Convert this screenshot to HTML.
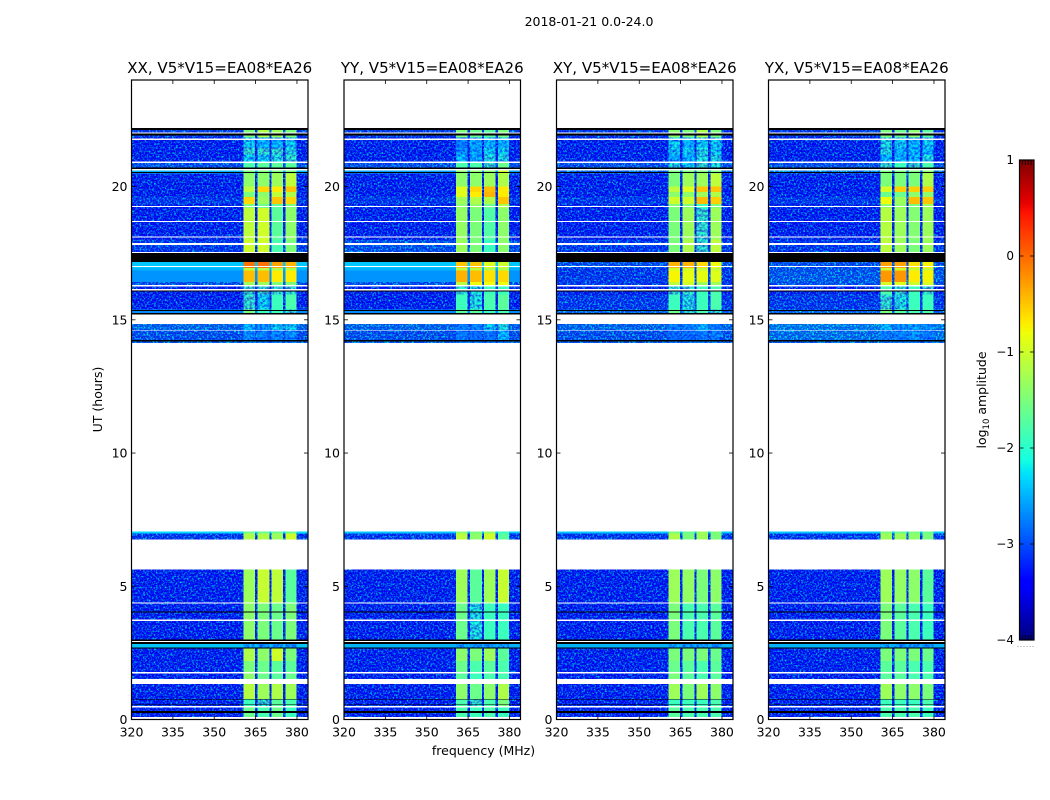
<!DOCTYPE html>
<html lang="en">
<head>
<meta charset="utf-8">
<title>2018-01-21 0.0-24.0</title>
<style>
html,body{margin:0;padding:0;background:#fff;width:1050px;height:800px;overflow:hidden}
svg{display:block}
text{font-family:"DejaVu Sans","Liberation Sans",sans-serif;fill:#000}
</style>
</head>
<body>
<svg id="chart" xmlns="http://www.w3.org/2000/svg" width="1050" height="800" viewBox="0 0 1050 800">
  <defs>
    <filter id="speckle" filterUnits="userSpaceOnUse" x="0" y="0" width="1050" height="800" color-interpolation-filters="sRGB">
      <feTurbulence type="fractalNoise" baseFrequency="0.55" numOctaves="2" seed="7" result="n"/>
      <feColorMatrix in="n" type="matrix" values="0 0 0 0 0  2.2 0 0 0 -1.0  0 2.0 0 0 -1.0  0 0 0 0 1" result="m"/>
      <feComposite in="m" in2="SourceAlpha" operator="in" result="clipped"/>
      <feComposite in="SourceGraphic" in2="clipped" operator="arithmetic" k1="0" k2="1" k3="1" k4="-0.12"/>
    </filter>
    <filter id="mottle" filterUnits="userSpaceOnUse" x="0" y="0" width="1050" height="800" color-interpolation-filters="sRGB">
      <feTurbulence type="fractalNoise" baseFrequency="0.4" numOctaves="2" seed="11" result="n"/>
      <feColorMatrix in="n" type="matrix" values="0 0 0 0 1  1.6 0 0 0 -0.05  0 0 0 0 1  0 0 0 0 1" result="m"/>
      <feComposite in="m" in2="SourceAlpha" operator="in" result="clipped"/>
      <feBlend in="SourceGraphic" in2="clipped" mode="multiply"/>
    </filter>
  </defs>
  <rect x="0" y="0" width="1050" height="800" fill="#fff"/>
  <text x="589" y="26" font-size="12.5" text-anchor="middle">2018-01-21 0.0-24.0</text>
  <text x="483.5" y="755" font-size="12.5" text-anchor="middle">frequency (MHz)</text>
  <text transform="translate(102,399.5) rotate(-90)" font-size="12.5" text-anchor="middle">UT (hours)</text>
  <text transform="translate(986,400) rotate(-90)" font-size="12.5" text-anchor="middle">log<tspan font-size="8.5" dy="3">10</tspan><tspan dy="-3"> amplitude</tspan></text>
</svg>
<script>
// ---- axis data ----
const panelTitles = ["XX, V5*V15=EA08*EA26", "YY, V5*V15=EA08*EA26", "XY, V5*V15=EA08*EA26", "YX, V5*V15=EA08*EA26"];
const freqTicks = [320, 335, 350, 365, 380];
const hourTicks = [0, 5, 10, 15, 20];
const colorTicks = [1, 0, -1, -2, -3, -4];
const freqRange = [320, 384];
const hourRange = [0, 24];
const colorRange = [-4, 1];

// frequency columns (MHz): background, then four spectral windows separated by gaps
const channelEdges = [[360.6, 364.8], [365.6, 370.0], [370.7, 375.0], [375.8, 379.9]];

// time intervals (UT hours), top to bottom
const timeRows = [
  [22.2, 21.85], [21.85, 21.45], [21.45, 21.2], [21.2, 20.95], [20.95, 20.6], [20.6, 20.5],
  [20.5, 20.0], [20.0, 19.8], [19.8, 19.6], [19.6, 19.35], [19.35, 19.2], [19.2, 18.0],
  [18.0, 17.5], [17.5, 17.175], [17.175, 16.95], [16.95, 16.85], [16.85, 16.42], [16.42, 16.25],
  [16.25, 15.95], [15.95, 15.38], [15.38, 15.2], [15.2, 14.6], [14.6, 14.25], [14.25, 14.1],
  [7.05, 6.98], [6.98, 6.75], [5.625, 4.4], [4.4, 3.0], [3.0, 2.66], [2.66, 2.2],
  [2.2, 1.75], [1.75, 1.5], [1.5, 0.77], [0.77, 0.5], [0.5, 0.0]
];

// log10 amplitude per time row: [background, window1, window2, window3, window4]
const levelsXX = [
  [-3.1,-1.5,-1.2,-1.3,-1.5],[-3.2,-2.2,-2.3,-2.3,-2.2],[-3.2,-2.0,-2.0,-2.0,-2.1],[-3.2,-2.2,-2.2,-2.1,-2.0],
  [-3.0,-1.8,-1.7,-1.7,-1.7],[-2.5,-1.5,-1.5,-1.5,-1.5],[-3.2,-1.4,-1.4,-1.3,-1.1],[-3.2,-1.1,-0.6,-0.7,-0.5],
  [-3.2,-1.5,-1.4,-1.1,-1.2],[-3.1,-0.6,-1.3,-0.5,-0.6],[-3.2,-1.5,-1.6,-1.7,-1.5],[-3.2,-1.1,-1.0,-1.7,-1.4],
  [-3.1,-1.0,-1.0,-1.8,-1.5],[-3.0,-1.0,-1.0,-1.0,-1.0],[-2.4,-0.05,-0.05,-0.3,-0.4],[-2.5,-1.1,-1.1,-1.2,-1.2],
  [-2.65,-0.45,-0.45,-0.7,-0.7],[-3.0,-1.3,-1.3,-1.5,-1.5],[-3.2,-2.0,-2.0,-2.0,-2.0],[-3.2,-2.0,-2.2,-1.9,-1.8],
  [-2.7,-1.5,-1.9,-1.9,-2.0],[-2.9,-2.3,-2.5,-2.2,-2.2],[-3.0,-2.5,-2.6,-2.6,-2.5],[-2.9,-2.5,-2.6,-2.6,-2.6],
  [-2.3,-1.6,-1.6,-1.6,-1.6],[-3.1,-1.2,-1.2,-1.3,-1.0],[-3.2,-1.3,-1.05,-1.1,-1.7],[-3.2,-1.4,-1.5,-1.6,-1.5],
  [-2.4,-2.4,-2.5,-2.5,-2.5],[-3.2,-1.2,-1.4,-1.0,-1.5],[-3.2,-1.5,-1.6,-1.7,-1.7],[-3.2,-1.4,-1.6,-1.7,-1.6],
  [-3.2,-1.15,-1.3,-1.2,-1.3],[-3.2,-1.9,-2.0,-1.7,-1.8],[-3.2,-1.6,-1.8,-1.6,-1.9]
];
const levelsYY = [
  [-3.1,-1.5,-1.6,-1.7,-1.5],[-3.2,-2.6,-2.4,-2.3,-2.3],[-3.2,-2.5,-2.4,-2.2,-2.2],[-3.2,-2.3,-2.4,-2.1,-2.1],
  [-3.0,-1.8,-1.8,-2.0,-1.6],[-2.6,-1.4,-1.4,-1.4,-1.0],[-3.2,-1.4,-1.4,-1.3,-1.2],[-3.2,-0.9,-0.6,-0.45,-0.7],
  [-3.2,-0.9,-0.7,-0.4,-0.7],[-3.1,-1.3,-1.2,-1.2,-0.5],[-3.2,-1.4,-1.4,-1.6,-1.2],[-3.2,-1.35,-1.5,-1.75,-1.4],
  [-3.0,-1.3,-1.5,-1.9,-1.4],[-3.0,-1.0,-1.0,-1.0,-1.0],[-2.4,-0.5,-0.5,-0.9,-1.0],[-2.5,-1.1,-1.1,-1.2,-1.2],
  [-2.65,-0.4,-0.45,-0.65,-0.6],[-3.0,-1.1,-0.8,-0.8,-0.8],[-3.2,-2.0,-2.1,-1.9,-1.9],[-3.2,-1.9,-2.1,-1.8,-1.7],
  [-2.7,-1.7,-1.7,-1.9,-1.8],[-2.9,-2.6,-2.6,-2.2,-2.1],[-3.0,-2.6,-2.7,-2.6,-2.3],[-2.9,-2.6,-2.6,-2.6,-2.6],
  [-2.4,-1.4,-1.5,-1.3,-1.9],[-3.1,-1.1,-1.4,-1.0,-1.7],[-3.2,-1.3,-1.7,-1.3,-1.05],[-3.2,-1.6,-2.1,-1.9,-1.9],
  [-2.5,-2.4,-2.5,-2.5,-2.5],[-3.2,-1.4,-1.5,-1.3,-1.7],[-3.2,-1.6,-1.8,-1.7,-1.8],[-3.2,-1.7,-1.9,-1.8,-1.8],
  [-3.2,-1.4,-1.6,-1.4,-1.2],[-3.2,-1.8,-2.0,-1.8,-1.5],[-3.2,-1.8,-1.9,-1.8,-1.9]
];
const levelsXY = [
  [-3.1,-1.4,-1.5,-1.2,-1.5],[-3.2,-2.2,-2.3,-2.2,-2.2],[-3.2,-2.2,-2.2,-2.1,-2.2],[-3.2,-2.4,-2.3,-2.1,-2.1],
  [-3.0,-2.1,-2.2,-2.0,-2.1],[-2.9,-1.5,-1.5,-1.5,-1.5],[-3.2,-1.5,-1.3,-1.3,-1.1],[-3.2,-1.1,-0.9,-0.5,-0.5],
  [-3.2,-1.4,-1.4,-1.3,-1.2],[-3.1,-1.0,-1.0,-0.45,-0.55],[-3.2,-1.5,-1.5,-1.9,-1.5],[-3.2,-1.5,-1.3,-2.0,-1.3],
  [-3.1,-1.5,-1.2,-2.0,-1.1],[-3.0,-1.0,-1.0,-1.0,-1.0],[-3.0,-0.4,-0.4,-0.6,-0.8],[-3.1,-1.0,-1.0,-1.1,-1.1],
  [-3.1,-0.75,-0.85,-0.85,-0.9],[-3.1,-1.1,-1.0,-1.3,-1.3],[-3.2,-2.0,-2.0,-1.9,-1.8],[-3.1,-1.9,-2.1,-1.9,-1.8],
  [-2.9,-1.6,-2.0,-1.8,-2.0],[-2.9,-2.6,-2.6,-2.3,-2.6],[-3.0,-2.7,-2.7,-2.6,-2.6],[-2.9,-2.6,-2.6,-2.6,-2.6],
  [-2.4,-1.5,-1.6,-1.3,-1.5],[-3.1,-1.2,-1.5,-1.3,-1.5],[-3.2,-1.3,-1.35,-1.5,-1.4],[-3.2,-1.5,-1.8,-1.8,-1.7],
  [-2.5,-2.4,-2.5,-2.5,-2.5],[-3.2,-1.5,-1.5,-1.5,-1.6],[-3.2,-1.6,-1.7,-1.8,-1.7],[-3.2,-1.5,-1.7,-1.8,-1.7],
  [-3.2,-1.3,-1.5,-1.3,-1.4],[-3.2,-1.9,-1.9,-1.9,-1.8],[-3.2,-1.7,-1.8,-1.8,-1.8]
];
const levelsYX = [
  [-3.1,-1.5,-1.6,-1.4,-1.7],[-3.2,-2.1,-2.2,-2.3,-2.2],[-3.2,-2.1,-2.3,-2.3,-2.3],[-3.2,-2.3,-2.3,-2.3,-2.1],
  [-3.0,-2.0,-1.9,-2.0,-1.8],[-2.8,-1.5,-1.5,-1.5,-1.4],[-3.2,-1.5,-1.5,-1.5,-1.2],[-3.2,-0.95,-0.55,-0.55,-0.55],
  [-3.2,-1.6,-1.6,-1.4,-1.4],[-3.1,-0.8,-1.3,-0.45,-0.5],[-3.2,-1.4,-1.4,-1.5,-1.3],[-3.2,-1.15,-1.3,-1.45,-1.3],
  [-3.1,-1.1,-1.3,-1.5,-1.3],[-3.0,-1.0,-1.0,-1.0,-1.0],[-3.0,-0.3,-0.3,-0.65,-0.75],[-3.0,-1.0,-1.0,-1.05,-1.05],
  [-2.95,-0.25,-0.25,-0.7,-0.75],[-3.0,-0.95,-0.9,-1.0,-0.95],[-3.2,-1.8,-2.0,-1.9,-2.0],[-3.1,-2.0,-2.1,-1.9,-1.9],
  [-2.9,-1.5,-1.7,-1.8,-1.8],[-2.8,-2.3,-2.5,-2.4,-2.5],[-2.85,-2.6,-2.6,-2.5,-2.6],[-2.9,-2.6,-2.6,-2.6,-2.6],
  [-2.4,-1.5,-1.6,-1.5,-1.6],[-3.1,-1.3,-1.3,-1.4,-1.5],[-3.2,-1.3,-1.35,-1.4,-1.7],[-3.2,-1.5,-1.7,-1.8,-1.9],
  [-2.5,-2.4,-2.5,-2.5,-2.5],[-3.2,-1.5,-1.5,-1.5,-1.6],[-3.2,-1.7,-1.7,-1.8,-1.8],[-3.2,-1.7,-1.7,-1.8,-1.8],
  [-3.2,-1.3,-1.4,-1.4,-1.5],[-3.2,-1.9,-1.9,-1.9,-1.8],[-3.2,-1.8,-1.8,-1.8,-1.9]
];
const panelLevels = [levelsXX, levelsYY, levelsXY, levelsYX];

// flagged time ranges (UT hours)
const missingRanges = [
  [24, 22.2], [22.025, 21.99], [21.8, 21.75], [20.94, 20.89], [20.66, 20.61], [19.275, 19.24],
  [18.71, 18.675], [18.125, 18.09], [17.875, 17.81], [17.55, 17.51], [17.025, 16.975], [16.31, 16.25],
  [16.15, 16.1], [15.2, 14.85], [14.625, 14.59], [14.125, 7.05], [6.75, 5.625], [4.4, 4.35],
  [3.75, 3.69], [2.95, 2.9], [1.775, 1.725], [1.525, 1.325], [0.5, 0.45], [0.1, 0]
];
const zeroRanges = [
  [22.2, 22.125], [21.99, 21.925], [20.71, 20.66], [20.55, 20.51], [17.51, 17.175], [16.1, 16.06],
  [15.375, 15.325], [15.25, 15.2], [14.25, 14.19], [4.05, 4.01], [3.0, 2.95], [2.9, 2.825],
  [2.7, 2.66], [0.775, 0.75], [0.56, 0.54], [0.31, 0.25]
];

// ---- layout ----
const panelLefts = [131.5, 344, 556.5, 768.5];
const panelWidth = 176.5;
const plotTop = 80, plotBottom = 719.5;
const barLeft = 1019.5, barRight = 1034, barTop = 160, barBottom = 640;

// ---- scales ----
function xScale(panel, mhz) {
  return panelLefts[panel] + (mhz - freqRange[0]) / (freqRange[1] - freqRange[0]) * panelWidth;
}
function yScale(hour) {
  return plotBottom - (hour - hourRange[0]) / (hourRange[1] - hourRange[0]) * (plotBottom - plotTop);
}
function barScale(v) {
  return barBottom - (v - colorRange[0]) / (colorRange[1] - colorRange[0]) * (barBottom - barTop);
}
function ramp(t, pts) {
  for (let i = 1; i < pts.length; i++) {
    if (t <= pts[i][0]) {
      const a = pts[i - 1], b = pts[i];
      return a[1] + (b[1] - a[1]) * (t - a[0]) / (b[0] - a[0]);
    }
  }
  return pts[pts.length - 1][1];
}
function jet(v) {
  const t = Math.max(0, Math.min(1, (v - colorRange[0]) / (colorRange[1] - colorRange[0])));
  const r = ramp(t, [[0, 0], [0.35, 0], [0.66, 1], [0.89, 1], [1, 0.5]]);
  const g = ramp(t, [[0, 0], [0.125, 0], [0.375, 1], [0.64, 1], [0.91, 0], [1, 0]]);
  const b = ramp(t, [[0, 0.5], [0.11, 1], [0.34, 1], [0.65, 0], [1, 0]]);
  return "rgb(" + Math.round(r * 255) + "," + Math.round(g * 255) + "," + Math.round(b * 255) + ")";
}

const SVG_NS = "http://www.w3.org/2000/svg";
const root = document.getElementById("chart");
function make(tag, parent, attrs) {
  const node = document.createElementNS(SVG_NS, tag);
  for (const k in attrs) node.setAttribute(k, attrs[k]);
  parent.appendChild(node);
  return node;
}
function label(txt) {
  return String(txt).replace("-", "\u2212");
}

panelTitles.forEach(function (title, p) {
  const left = panelLefts[p], right = left + panelWidth;
  const levels = panelLevels[p];

  const group = make("g", root, {});
  
  

  // background cells: low-amplitude rows are speckled, brighter rows are smooth
  const bgGroup = make("g", group, { filter: "url(#speckle)", "shape-rendering": "crispEdges" });
  
  
  const smoothGroup = make("g", group, { "shape-rendering": "crispEdges" });
  
  
  timeRows.forEach(function (row, i) {
    const y0 = yScale(row[0]), y1 = yScale(row[1]);
    const cell = make("rect", levels[i][0] < -2.75 ? bgGroup : smoothGroup, {
      x: xScale(p, freqRange[0]), y: y0,
      width: xScale(p, freqRange[1]) - xScale(p, freqRange[0]), height: y1 - y0,
      fill: jet(levels[i][0])
    });
    
    
  });
  // window cells: weak windows are mottled, strong windows are smooth
  const weakGroup = make("g", group, { filter: "url(#mottle)", "shape-rendering": "crispEdges" });
  
  
  const winGroup = make("g", group, { "shape-rendering": "crispEdges" });
  
  
  timeRows.forEach(function (row, i) {
    const y0 = yScale(row[0]), y1 = yScale(row[1]);
    channelEdges.forEach(function (edge, c) {
      const x0 = xScale(p, edge[0]), x1 = xScale(p, edge[1]);
      const v = levels[i][c + 1];
      const cell = make("rect", v < -1.95 ? weakGroup : winGroup, {
        x: x0, y: y0, width: x1 - x0, height: y1 - y0, fill: jet(v)
      });
      
      
    });
  });
  const flagGroup = make("g", group, { "shape-rendering": "crispEdges" });
  
  
  missingRanges.forEach(function (r) {
    const band = make("rect", flagGroup, {
      x: left, y: yScale(r[0]), width: panelWidth, height: yScale(r[1]) - yScale(r[0]), fill: "#fff"
    });
    
    
  });
  zeroRanges.forEach(function (r) {
    const band = make("rect", flagGroup, {
      x: left, y: yScale(r[0]), width: panelWidth, height: yScale(r[1]) - yScale(r[0]), fill: "#000"
    });
    
    
  });

  // ticks
  freqTicks.forEach(function (f) {
    const x = xScale(p, f);
    const b = make("line", group, { x1: x, x2: x, y1: plotBottom, y2: plotBottom - 4, stroke: "#000", "stroke-width": 0.8 });
    
    
    const t = make("line", group, { x1: x, x2: x, y1: plotTop, y2: plotTop + 4, stroke: "#000", "stroke-width": 0.8 });
    
    
    const lab = make("text", group, { x: x, y: 736.5, "font-size": 12.5, "text-anchor": "middle" });
    lab.textContent = label(f);
    
    
  });
  hourTicks.forEach(function (h) {
    const y = yScale(h);
    const a = make("line", group, { x1: left, x2: left + 4, y1: y, y2: y, stroke: "#000", "stroke-width": 0.8 });
    
    
    const c = make("line", group, { x1: right, x2: right - 4, y1: y, y2: y, stroke: "#000", "stroke-width": 0.8 });
    
    
    const lab = make("text", group, { x: left - 4, y: y + 4.5, "font-size": 12.5, "text-anchor": "end" });
    lab.textContent = label(h);
    
    
  });

  // frame and title
  const frame = make("rect", group, { x: left, y: plotTop, width: panelWidth, height: plotBottom - plotTop, fill: "none", stroke: "#000", "stroke-width": 1.2 });
  
  
  const ttl = make("text", group, { x: left + panelWidth / 2, y: 73, "font-size": 15.05, "text-anchor": "middle" });
  ttl.textContent = title;
  
  
});

// ---- colorbar ----
const cbGroup = make("g", root, {});


const cbSteps = 240;
for (let i = 0; i < cbSteps; i++) {
  const v0 = colorRange[0] + (colorRange[1] - colorRange[0]) * i / cbSteps;
  const v1 = colorRange[0] + (colorRange[1] - colorRange[0]) * (i + 1) / cbSteps;
  const swatch = make("rect", cbGroup, {
    x: barLeft, y: barScale(v1), width: barRight - barLeft, height: barScale(v0) - barScale(v1),
    fill: jet((v0 + v1) / 2), "shape-rendering": "crispEdges"
  });
  
  
}
colorTicks.forEach(function (v) {
  const y = barScale(v);
  const a = make("line", cbGroup, { x1: barLeft, x2: barLeft + 4, y1: y, y2: y, stroke: "#000", "stroke-width": 0.8 });
  
  
  const b = make("line", cbGroup, { x1: barRight, x2: barRight - 4, y1: y, y2: y, stroke: "#000", "stroke-width": 0.8 });
  
  
  const lab = make("text", cbGroup, { x: 1014, y: y + 4, "font-size": 12, "text-anchor": "end" });
  lab.textContent = label(v);
  
  
});
for (let i = 1; i <= 4; i++) {
  const x = barLeft + (barRight - barLeft) * i / 5;
  const top = make("line", cbGroup, { x1: x, x2: x, y1: barTop, y2: barTop + 5, stroke: "#000", "stroke-width": 0.8 });
  
  
  const bot = make("line", cbGroup, { x1: x, x2: x, y1: barBottom, y2: barBottom - 5, stroke: "#000", "stroke-width": 0.8 });
  
  
}
const cbFrame = make("rect", cbGroup, { x: barLeft, y: barTop, width: barRight - barLeft, height: barBottom - barTop, fill: "none", stroke: "#000", "stroke-width": 1.2 });


const cbDots = make("line", cbGroup, { x1: 1017.5, x2: 1035, y1: 646.5, y2: 646.5, stroke: "#999", "stroke-width": 1, "stroke-dasharray": "1 2" });


</script>
</body>
</html>
